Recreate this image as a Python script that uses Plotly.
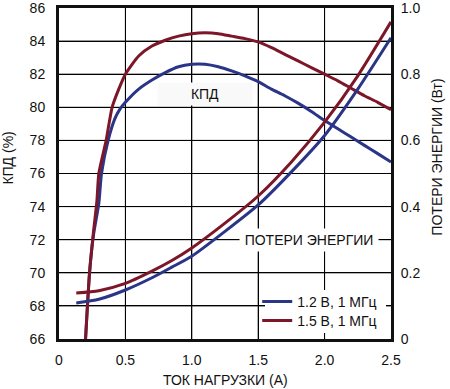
import plotly.graph_objects as go

# Load current (A)
eff_i_12 = [0.2, 0.23, 0.26, 0.30, 0.32, 0.37, 0.42, 0.46, 0.5, 0.6, 0.7, 0.8, 0.9, 1.0, 1.1, 1.2, 1.3, 1.4, 1.5,
            1.6, 1.7, 1.8, 1.9, 2.0, 2.1, 2.2, 2.3, 2.4, 2.5]
eff_12 = [66, 70, 72.3, 74.2, 76, 78, 79.3, 79.9, 80.3, 81.1, 81.65, 82.1, 82.45, 82.6, 82.6, 82.45, 82.2, 81.9, 81.55,
          81.1, 80.7, 80.25, 79.75, 79.2, 78.7, 78.2, 77.7, 77.2, 76.7]
eff_i_15 = [0.2, 0.23, 0.26, 0.285, 0.30, 0.355, 0.40, 0.45, 0.5, 0.6, 0.7, 0.8, 0.9, 1.0, 1.1, 1.2, 1.3, 1.4, 1.5,
            1.6, 1.7, 1.8, 1.9, 2.0, 2.1, 2.2, 2.3, 2.4, 2.5]
eff_15 = [66, 70, 72.5, 74.3, 76, 78, 80, 81.1, 82, 83.1, 83.7, 84.05, 84.3, 84.45, 84.5, 84.45, 84.3, 84.15, 83.95,
          83.6, 83.2, 82.8, 82.4, 82.0, 81.6, 81.15, 80.7, 80.3, 79.85]

loss_i = [0.13, 0.3, 0.5, 0.7, 0.85, 1.0, 1.25, 1.5, 1.75, 2.0, 2.25, 2.5]
loss_12 = [0.109, 0.12, 0.148, 0.185, 0.217, 0.25, 0.325, 0.405, 0.505, 0.615, 0.755, 0.91]
loss_15 = [0.139, 0.146, 0.168, 0.205, 0.237, 0.275, 0.35, 0.432, 0.535, 0.655, 0.795, 0.958]

names = ["1.2 В, 1 МГц", "1.5 В, 1 МГц"]
BLUE = "#2b3587"
RED = "#7c1628"
FONT = "Liberation Sans, Arial, sans-serif"
FS = 14

x_ticks = [0, 0.5, 1.0, 1.5, 2.0, 2.5]
x_labels = ["0", "0.5", "1.0", "1.5", "2.0", "2.5"]
y_ticks = [66, 68, 70, 72, 74, 76, 78, 80, 82, 84, 86]
y2_ticks = [0, 0.2, 0.4, 0.6, 0.8, 1.0]
y2_labels = ["0", "0.2", "0.4", "0.6", "0.8", "1.0"]

fig = go.Figure()

# grid lines built from the tick arrays, drawn through the axes' scales
gx, gy = [], []
for xv in x_ticks[1:-1]:
    gx += [xv, xv, None]
    gy += [y_ticks[0], y_ticks[-1], None]
for yv in y_ticks[1:-1]:
    gx += [x_ticks[0], x_ticks[-1], None]
    gy += [yv, yv, None]
fig.add_trace(go.Scatter(x=gx, y=gy, mode="lines", showlegend=False, hoverinfo="skip",
                         line=dict(color="#000000", width=1), connectgaps=False))

line_kw = dict(shape="spline", smoothing=0.6)
fig.add_trace(go.Scatter(x=eff_i_12, y=eff_12, mode="lines", name=names[0], legend="legend2",
                         line=dict(color=BLUE, width=3, **line_kw), showlegend=True))
fig.add_trace(go.Scatter(x=eff_i_15, y=eff_15, mode="lines", name=names[1], legend="legend",
                         line=dict(color=RED, width=3, **line_kw), showlegend=True))
fig.add_trace(go.Scatter(x=loss_i, y=loss_12, mode="lines", yaxis="y2", showlegend=False,
                         line=dict(color=BLUE, width=3, **line_kw)))
fig.add_trace(go.Scatter(x=loss_i, y=loss_15, mode="lines", yaxis="y2", showlegend=False,
                         line=dict(color=RED, width=3, **line_kw)))

# white panel behind the legend (hides grid lines there, as in the original)
fig.add_shape(type="rect", xref="paper", yref="paper", x0=0.6205, x1=0.985, y0=0.018, y1=0.148,
              fillcolor="white", line=dict(width=0), layer="above")

clear = "rgba(0,0,0,0)"
GRID = dict(showgrid=True, gridcolor="#000000", gridwidth=1)
fig.update_layout(
    template="none",
    width=450, height=389,
    margin=dict(l=59, r=59, t=8, b=50, autoexpand=False),
    paper_bgcolor="white", plot_bgcolor=clear,
    font=dict(family=FONT, size=FS, color="#111111"),
    xaxis=dict(range=[0, 2.5], tickvals=x_ticks, ticktext=x_labels, **GRID,
               showline=True, linecolor="#111111", linewidth=3,
               mirror=True, ticks="outside", ticklen=6, tickcolor=clear, zeroline=False,
               ticklabeloverflow="allow"),
    yaxis=dict(range=[66, 86], tickvals=y_ticks, **GRID,
               showline=True, linecolor="#111111", linewidth=3, mirror=True, ticks="outside",
               ticklen=8, tickcolor=clear, zeroline=False, ticklabeloverflow="allow"),
    yaxis2=dict(range=[0, 1], overlaying="y", side="right", tickvals=y2_ticks, ticktext=y2_labels,
                showgrid=False, showline=False, ticks="outside", ticklen=6, tickcolor=clear,
                zeroline=False, ticklabeloverflow="allow"),
    legend2=dict(x=0.597, y=0.1118, xanchor="left", yanchor="middle", bgcolor=clear,
                 borderwidth=0, font=dict(size=FS), itemwidth=30),
    legend=dict(x=0.597, y=0.0544, xanchor="left", yanchor="middle", bgcolor=clear,
                borderwidth=0, font=dict(size=FS), itemwidth=30),
    showlegend=True,
    annotations=[
        dict(text="КПД", x=1.1, y=80.8, xref="x", yref="y", showarrow=False,
             bgcolor="#f9f9f9", width=92, height=20),
        dict(text="ПОТЕРИ ЭНЕРГИИ", x=1.88, y=72.0, xref="x", yref="y", showarrow=False,
             bgcolor="white", width=136, height=20),
        dict(text="КПД (%)", x=-0.1536, y=0.545, xref="paper", yref="paper", showarrow=False,
             textangle=-90, xanchor="center", yanchor="middle"),
        dict(text="ПОТЕРИ ЭНЕРГИИ (Вт)", x=1.1386, y=0.548, xref="paper", yref="paper",
             showarrow=False, textangle=-90, xanchor="center", yanchor="middle"),
        dict(text="ТОК НАГРУЗКИ (А)", x=0.5, y=-0.1235, xref="paper", yref="paper",
             showarrow=False, xanchor="center", yanchor="middle"),
    ],
)

fig.write_html("out.html", config={"displayModeBar": False},
               post_script="document.body.style.margin='0';document.body.style.padding='0';")
